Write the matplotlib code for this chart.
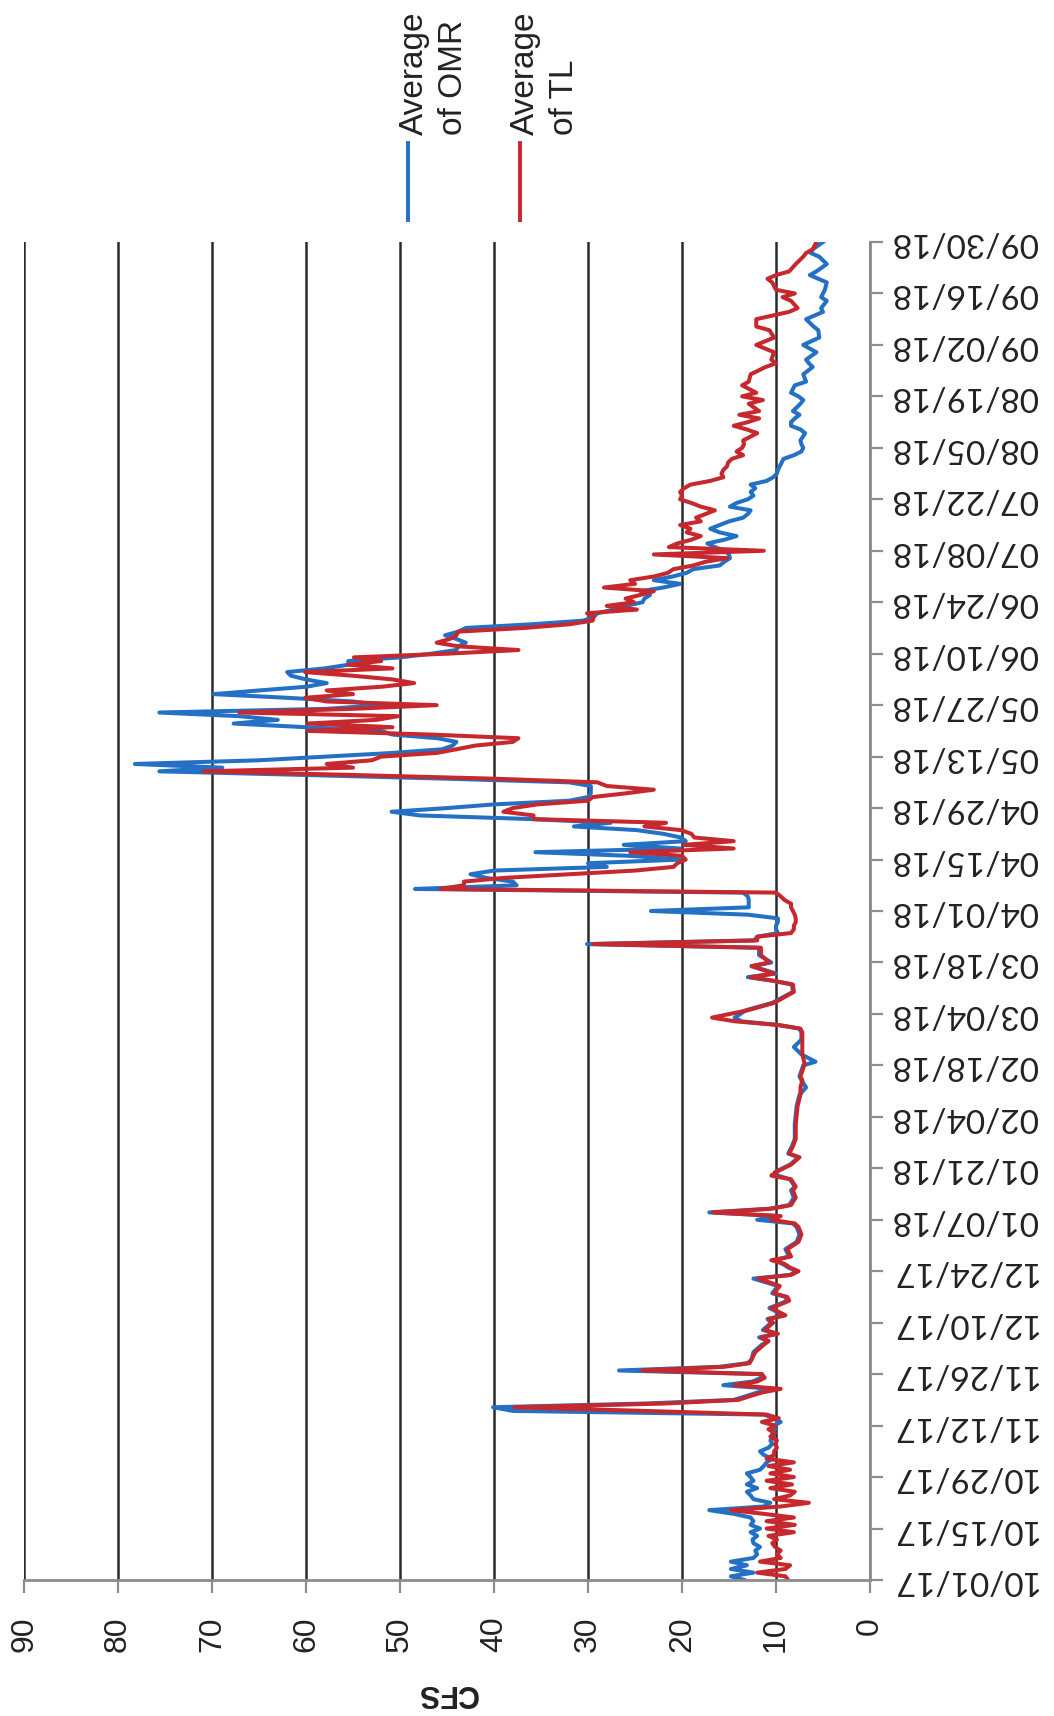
import datetime as dt
import matplotlib
matplotlib.use("Agg")
import matplotlib.pyplot as plt
from matplotlib.lines import Line2D

# days counted from 10/01/17, with the daily CFS values
start = dt.date(2017, 10, 1)

day_num = (list(range(0, 48)) + list(range(48, 61))
           + [62, 64, 65, 66, 67, 68, 70, 71, 72, 74, 75, 76, 77, 78, 80, 82, 83,
              84, 85, 86, 87, 88, 90, 92, 94, 96, 97, 98, 99, 100, 101, 102, 104, 106]
           + [107, 109, 110, 111, 113, 115, 116, 118, 120, 124, 129, 132, 134, 136,
              137, 140, 141, 143, 145, 147, 149, 150, 151, 152, 153, 155, 157, 160,
              162, 163, 164, 165, 167, 168, 170, 172]
           + list(range(173, 301))
           + [301, 302, 303, 304, 305, 306, 307, 308, 309, 310, 312, 313, 314]
           + [315, 316, 317, 318, 320, 321, 322, 323, 325, 326, 328, 330, 331, 332,
              334, 336, 338, 340, 341, 343, 345, 346, 348, 349, 350, 351, 353, 354,
              355, 356, 358, 360, 361, 362, 364])

omr = ([13.4, 14.8, 12.4, 14.8, 13.1, 14.8, 12.4, 12.0, 12.2, 11.7,
        12.4, 12.5, 12.0, 12.7, 11.7, 12.7, 12.4, 12.7, 14.5, 17.1,
        11.3, 10.6, 12.4, 12.7, 13.1, 12.0, 13.1, 12.4, 12.7, 13.1,
        11.7, 11.3, 11.0, 10.4, 11.3, 11.7, 10.8, 10.4, 10.6, 10.2,
        10.4, 10.1, 10.2, 9.5, 10.2, 11.3, 38.0, 40.1]
       + [24.0, 14.5, 13.2, 12.0, 10.4, 15.6, 12.5, 11.6, 11.5, 26.7, 16.0, 13.0, 12.6]
       + [12.4, 11.5, 10.8, 11.8, 9.9, 11.4, 10.5, 10.9, 9.2, 10.7,
          9.7, 8.8, 9.0, 10.4, 9.8, 12.4, 8.5, 7.8, 8.7, 9.3,
          10.0, 8.6, 9.0, 7.8, 7.5, 7.8, 8.2, 12.0, 9.6, 17.1,
          10.7, 8.6, 8.1, 8.4]
       + [8.0, 8.5, 9.8, 10.1, 8.5, 7.6, 8.7, 8.3, 8.0, 8.0,
          7.8, 7.5, 6.8, 7.3, 7.5, 7.1, 5.8, 7.3, 8.1, 7.3,
          7.3, 7.5, 9.8, 13.7, 14.4, 13.2, 10.4, 8.2, 8.3, 10.3,
          13.0, 10.0, 12.6, 10.5, 11.8, 11.8]
       + [30.1, 12.3, 12.0, 9.8, 10.0, 10.0, 9.8, 9.8, 13.0, 23.3,
          12.9, 12.9, 12.9, 13.0, 13.5, 48.4, 37.6, 38.0, 40.8, 42.5,
          40.0, 28.0, 30.0, 20.0, 25.5, 35.6, 20.2, 26.2, 19.6, 20.1,
          22.0, 24.8, 31.5, 27.6, 36.0, 47.9, 50.9, 45.0, 40.0, 32.0,
          30.0, 29.7, 29.7, 29.7, 32.0, 45.0, 60.0, 75.6, 68.9, 78.2,
          65.0, 58.0, 50.8, 45.5, 44.4, 44.0, 46.0, 50.8, 52.0, 60.0,
          67.7, 63.0, 67.1, 75.6, 57.8, 52.0, 55.0, 62.0, 69.8, 65.0,
          60.0, 57.8, 60.0, 61.6, 62.0, 58.0, 55.5, 55.5, 50.0, 46.7,
          44.0, 43.8, 43.0, 44.0, 45.2, 43.8, 43.0, 36.0, 30.5, 29.4,
          29.0, 27.3, 26.0, 24.2, 24.0, 23.4, 24.4, 22.0, 20.2, 23.0,
          21.0, 19.5, 18.8, 16.0, 15.5, 14.9, 15.0, 15.5, 16.5, 17.3,
          15.5, 14.2, 16.0, 17.0, 16.0, 15.0, 13.5, 13.0, 12.7, 14.9,
          14.2, 13.0, 12.4, 12.7, 12.2, 12.7, 11.0, 10.3]
       + [9.9, 9.8, 9.6, 9.4, 9.2, 8.1, 7.3, 7.1, 7.3, 7.4, 6.9, 7.4, 8.4]
       + [8.4, 8.0, 7.5, 8.2, 7.4, 7.1, 7.6, 8.4, 8.0, 6.8,
          7.1, 6.1, 6.5, 6.8, 5.7, 7.1, 5.4, 5.5, 6.0, 6.8,
          5.0, 5.2, 4.6, 5.2, 5.0, 4.8, 4.6, 5.5, 6.4, 5.7,
          4.6, 5.4, 6.3, 6.1, 5.0])

tl = ([8.7, 9.0, 12.0, 9.0, 8.5, 11.7, 9.5, 9.9, 9.5, 10.1,
       10.4, 9.9, 10.8, 8.1, 11.0, 8.0, 11.0, 8.1, 11.3, 14.8,
       9.5, 6.5, 10.2, 8.5, 8.0, 10.6, 8.3, 11.0, 8.1, 10.6,
       8.5, 10.8, 8.1, 11.0, 10.2, 10.2, 9.9, 10.1, 9.9, 10.6,
       10.1, 10.8, 10.1, 11.5, 9.7, 11.0, 24.0, 37.8]
      + [22.0, 14.0, 12.8, 11.5, 9.5, 14.4, 12.0, 11.2, 11.5, 24.2, 15.5, 12.8, 12.6]
      + [12.2, 11.3, 10.8, 11.6, 9.8, 11.2, 10.3, 10.8, 9.0, 10.5,
         9.5, 8.6, 8.8, 10.2, 9.6, 11.9, 8.4, 7.6, 8.5, 9.1,
         10.5, 8.4, 8.8, 7.6, 7.3, 7.6, 8.0, 10.5, 9.5, 16.7,
         10.5, 8.4, 7.9, 8.2]
      + [7.9, 8.4, 10.5, 10.0, 8.4, 7.5, 8.6, 8.2, 7.9, 7.9,
         7.7, 7.4, 7.4, 7.2, 7.4, 7.0, 7.0, 7.2, 7.2, 7.2,
         7.2, 7.4, 9.8, 14.4, 16.8, 13.0, 10.2, 8.1, 8.2, 10.2,
         12.7, 10.2, 12.6, 10.7, 11.6, 11.6]
      + [29.4, 12.0, 12.0, 8.4, 8.1, 8.1, 7.9, 7.9, 8.0, 8.2,
         8.4, 8.4, 9.1, 9.5, 10.0, 45.7, 43.2, 43.2, 39.0, 32.0,
         25.0, 20.9, 20.5, 19.6, 20.0, 25.5, 14.5, 19.8, 14.5, 18.7,
         19.0, 20.1, 24.0, 21.7, 35.8, 35.8, 39.0, 38.0, 35.4, 30.0,
         29.5, 26.0, 23.0, 28.0, 29.0, 40.0, 55.0, 70.9, 55.0, 57.8,
         53.0, 52.0, 46.1, 44.0, 42.0, 38.0, 37.4, 46.7, 59.8, 50.8,
         59.8, 52.5, 50.2, 67.1, 55.0, 46.1, 57.8, 60.1, 55.0, 57.8,
         52.0, 48.5, 50.8, 55.0, 60.1, 50.8, 55.5, 52.0, 54.9, 45.0,
         37.4, 43.8, 46.1, 44.7, 44.0, 43.8, 36.8, 32.0, 29.5, 29.4,
         30.1, 24.8, 28.0, 25.1, 26.0, 24.4, 23.0, 28.3, 25.0, 25.5,
         23.0, 21.5, 20.9, 18.8, 17.5, 15.2, 23.0, 11.3, 21.4, 20.5,
         19.0, 18.0, 19.5, 19.1, 20.2, 18.0, 18.5, 17.5, 16.5, 18.0,
         19.0, 20.2, 20.0, 20.2, 19.8, 19.1, 17.0, 15.6]
      + [15.8, 15.6, 15.2, 15.1, 14.7, 13.5, 14.2, 13.6, 13.4, 13.5, 12.0, 13.1, 14.5]
      + [13.0, 11.8, 13.9, 11.8, 12.9, 11.4, 13.6, 12.1, 13.6, 12.9,
         12.7, 11.1, 10.0, 10.5, 10.2, 12.1, 10.2, 10.7, 12.1, 12.1,
         8.6, 7.7, 8.4, 9.3, 8.0, 10.0, 10.4, 10.9, 10.0, 8.6,
         7.9, 7.1, 6.8, 6.1, 5.7])

series_names = ["Average\nof OMR", "Average\nof TL"]
cfs_ticks = [0, 10, 20, 30, 40, 50, 60, 70, 80, 90]
date_ticks = list(range(0, 365, 14))

assert len(day_num) == len(omr) == len(tl)

blue = "#2470c4"
red = "#c6282d"
W, H = 1054, 1716

fig = plt.figure(figsize=(W / 100, H / 100), dpi=100)
# the page is turned on its side: CFS runs right-to-left, dates run upward
ax = fig.add_axes([24 / W, 1 - 1580 / H, (870 - 24) / W, (1580 - 242) / H])

ax.plot(omr, day_num, color=blue, lw=2.9, solid_joinstyle="round")
ax.plot(tl, day_num, color=red, lw=2.9, solid_joinstyle="round")

ax.set_xlim(90, 0)
ax.set_ylim(0, 364)
ax.set_xticks(cfs_ticks)
ax.set_xticklabels([str(v) for v in cfs_ticks], rotation=90, fontsize=23,
                   family="Liberation Sans", color="#222222")
ax.grid(axis="x", color="#2b2b2b", lw=1.8)
ax.set_axisbelow(True)

ax.yaxis.tick_right()
ax.set_yticks(date_ticks)
ax.set_yticklabels([(start + dt.timedelta(days=d)).strftime("%m/%d/%y") for d in date_ticks],
                   rotation=180, fontsize=24, family="Lato", color="#222222",
                   ha="left", va="center")

for s in ["top", "left"]:
    ax.spines[s].set_visible(False)
for s in ["bottom", "right"]:
    ax.spines[s].set_color("#8c8c8c")
    ax.spines[s].set_linewidth(2.0)
ax.tick_params(axis="x", direction="out", length=9.5, width=1.6, color="#8c8c8c", pad=17)
ax.tick_params(axis="y", direction="out", length=9, width=1.6, color="#8c8c8c", pad=6)

fig.text(447 / W, 1 - 1693 / H, "CFS", rotation=180, fontsize=22, fontweight="bold",
         family="Liberation Sans", color="#222222", ha="center", va="center")

# legend, drawn by hand because it is turned too
for name, color, lx, tx in zip(series_names, [blue, red], [408, 520], [434, 545]):
    fig.add_artist(Line2D([lx / W, lx / W], [1 - 143 / H, 1 - 220 / H],
                          transform=fig.transFigure, color=color, lw=2.8))
    fig.text(tx / W, 1 - 135 / H, name, rotation=90, rotation_mode="anchor",
             ha="left", va="center", multialignment="left", linespacing=1.35,
             fontsize=24, family="Liberation Sans", color="#222222")

fig.savefig("out.png", dpi=100, facecolor="white")
